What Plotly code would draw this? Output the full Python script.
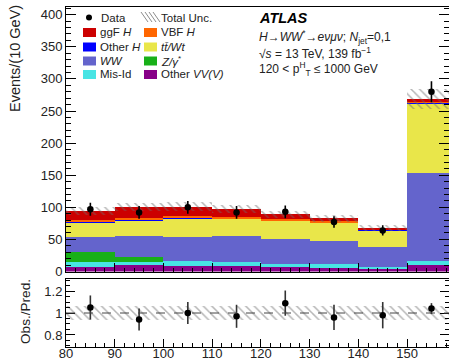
import numpy as np
import plotly.graph_objects as go

# ---------------- data ----------------
bin_centers = [85, 95, 105, 115, 125, 135, 145, 155]
other_vv = [7, 10, 9, 9, 7.5, 6, 4, 10]
mis_id = [8, 5, 7, 6, 3.5, 5, 3.5, 7]
z_gamma = [15, 7, 0, 0, 0, 0, 0, 0]
ww = [24, 34, 38, 40, 39, 36.5, 30, 136]
ttbar_wt = [22.6, 24, 29, 27, 29, 29, 27, 109]
other_h = [1, 1, 1, 1, 0.8, 0.5, 0.3, 0.5]
vbf_h = [3, 3, 3, 2, 1.5, 1, 0.5, 1]
ggf_h = [14, 16, 14, 13, 7.7, 5, 2.6, 5]

data_obs = [97, 92, 100, 92, 93, 77, 64, 280]
data_err = [10, 10, 10, 10, 10, 9, 8, 16.5]
ratio_obs = [1.05, 0.94, 1.00, 0.97, 1.09, 0.96, 0.98, 1.04]
ratio_err = [0.11, 0.10, 0.10, 0.105, 0.115, 0.115, 0.12, 0.05]
unc_rel = [0.065, 0.065, 0.065, 0.065, 0.065, 0.065, 0.065, 0.06]

x_ticks = [80, 90, 100, 110, 120, 130, 140, 150, 160]

components = [
    ("Other VV(V)", other_vv, "#880088"),
    ("Mis-Id", mis_id, "#48e4e4"),
    ("Z/γ*", z_gamma, "#18b018"),
    ("WW", ww, "#6464cc"),
    ("tt/Wt", ttbar_wt, "#e9e64a"),
    ("Other H", other_h, "#0000ff"),
    ("VBF H", vbf_h, "#ff6600"),
    ("ggF H", ggf_h, "#cc0000"),
]

FONT = "Liberation Sans, Arial, sans-serif"
W, H = 449, 363
L, T, B = 66, 7, 16
PW = W - L
PH = H - T - B


def px(x):
    return (x - L) / PW


def py(y):
    return (H - B - y) / PH


fig = go.Figure()

base = np.zeros(len(bin_centers))
for name, vals, col in components:
    v = np.array(vals, dtype=float)
    fig.add_trace(go.Bar(x=bin_centers, y=v, base=base.copy(), width=10,
                         marker=dict(color=col, line=dict(width=0)),
                         name=name, showlegend=False, xaxis="x", yaxis="y"))
    base = base + v

total = base
unc = total * np.array(unc_rel)
hatch = dict(color="rgba(0,0,0,0)", line=dict(width=0),
             pattern=dict(shape="\\", fgcolor="#6e6e6e", bgcolor="rgba(0,0,0,0)",
                          size=6, solidity=0.25, fillmode="overlay"))
fig.add_trace(go.Bar(x=bin_centers, y=2 * unc, base=total - unc, width=10,
                     marker=hatch, showlegend=False, xaxis="x", yaxis="y"))

fig.add_trace(go.Scatter(x=bin_centers, y=data_obs, mode="markers",
                         marker=dict(color="black", size=6.5),
                         error_y=dict(type="data", array=data_err, color="black",
                                      thickness=1.6, width=0),
                         showlegend=False, xaxis="x", yaxis="y"))

# ratio panel
ur = np.array(unc_rel)
fig.add_trace(go.Bar(x=bin_centers, y=2 * ur, base=1 - ur, width=10,
                     marker=hatch, showlegend=False, xaxis="x2", yaxis="y2"))
fig.add_shape(type="line", xref="x2 domain", yref="y2", x0=0, x1=1, y0=1, y1=1,
              line=dict(color="#444", width=1, dash="dash"))
fig.add_trace(go.Scatter(x=bin_centers, y=ratio_obs, mode="markers",
                         marker=dict(color="black", size=6.5),
                         error_y=dict(type="data", array=ratio_err, color="#333",
                                      thickness=1.6, width=0),
                         showlegend=False, xaxis="x2", yaxis="y2"))

xr = [80, 158.6]
axcommon = dict(showgrid=False, zeroline=False, showline=True, linecolor="black",
                linewidth=1, ticks="inside", tickcolor="black",
                tickfont=dict(family=FONT, size=13, color="#222"), automargin=False)

fig.update_layout(
    width=W, height=H,
    margin=dict(l=L, r=0, t=T, b=B),
    paper_bgcolor="white", plot_bgcolor="white",
    barmode="overlay", bargap=0,
    font=dict(family=FONT, color="#222"),
    xaxis=dict(axcommon, domain=[0, 1], range=xr, anchor="y", showticklabels=False,
               tickvals=x_ticks, ticklen=9, mirror=True,
               minor=dict(dtick=2, tick0=80, ticklen=4, ticks="inside", tickcolor="black")),
    yaxis=dict(axcommon, domain=[py(271.5), 1], range=[0, 412], anchor="x",
               dtick=50, ticklen=10, mirror="ticks",
               minor=dict(dtick=10, ticklen=5, ticks="inside", tickcolor="black")),
    xaxis2=dict(axcommon, domain=[0, 1], range=xr, anchor="y2",
                tickvals=x_ticks, ticktext=[str(t) for t in x_ticks], ticklen=8, mirror=True,
                ticklabelstandoff=-6,
                minor=dict(dtick=2, tick0=80, ticklen=4, ticks="inside", tickcolor="black")),
    yaxis2=dict(axcommon, domain=[0, py(279)], range=[0.69, 1.31], anchor="x2",
                tickvals=[0.8, 1.0, 1.2], ticktext=["0.8", "1", "1.2"], ticklen=9,
                mirror="ticks",
                minor=dict(dtick=0.05, tick0=0.8, ticklen=4, ticks="inside", tickcolor="black")),
)

ann = []
ann.append(dict(x=px(15), y=py(59), xref="paper", yref="paper", text="Events/(10 GeV)",
                textangle=-90, showarrow=False, xanchor="center", yanchor="middle",
                font=dict(family=FONT, size=14.5, color="#222")))
ann.append(dict(x=px(25), y=py(312), xref="paper", yref="paper", text="Obs./Pred.",
                textangle=-90, showarrow=False, xanchor="center", yanchor="middle",
                font=dict(family=FONT, size=13.6, color="#222")))

# ATLAS label
ann.append(dict(x=px(257), y=py(18), xref="paper", yref="paper",
                text="<b><i>ATLAS</i></b>", showarrow=False, xanchor="left", yanchor="middle",
                font=dict(family=FONT, size=14.5, color="black")))
atl_lines = [
    (37, "<i>H</i>→<i>WW</i><sup>*</sup>→<i>eνμν</i>; <i>N</i><sub>jet</sub>=0,1"),
    (53, "√<i>s</i> = 13 TeV, 139 fb<sup>−1</sup>"),
    (69, "120 &lt; p<sup>H</sup><sub>T</sub> ≤ 1000 GeV"),
]
for yy, t in atl_lines:
    ann.append(dict(x=px(257), y=py(yy), xref="paper", yref="paper", text=t,
                    showarrow=False, xanchor="left", yanchor="middle",
                    font=dict(family=FONT, size=12, color="#222")))

# manual legend
shapes = []
leg_font = dict(family=FONT, size=11.5, color="#222")
# Data
shapes.append(dict(type="circle", xref="paper", yref="paper",
                   x0=px(86), x1=px(92), y0=py(20.5), y1=py(14.5),
                   fillcolor="black", line=dict(width=0)))
ann.append(dict(x=px(99), y=py(17.5), xref="paper", yref="paper", text="Data",
                showarrow=False, xanchor="left", yanchor="middle", font=leg_font))
# Total unc hatch icon
for k in range(4):
    x0 = 141 + 4 * k
    shapes.append(dict(type="line", xref="paper", yref="paper",
                       x0=px(x0), x1=px(x0 + 7), y0=py(12), y1=py(22),
                       line=dict(color="#8c8c8c", width=1)))
ann.append(dict(x=px(159), y=py(17.5), xref="paper", yref="paper", text="Total Unc.",
                showarrow=False, xanchor="left", yanchor="middle", font=leg_font))

legend_entries = [
    (0, 32.5, "ggF H", "ggF <i>H</i>"),
    (1, 32.5, "VBF H", "VBF <i>H</i>"),
    (0, 47, "Other H", "Other <i>H</i>"),
    (1, 47, "tt/Wt", "<i>tt̄/Wt</i>"),
    (0, 61, "WW", "<i>WW</i>"),
    (1, 61, "Z/γ*", "<i>Z/γ</i><sup>*</sup>"),
    (0, 74.5, "Mis-Id", "Mis-Id"),
    (1, 74.5, "Other VV(V)", "Other <i>VV(V)</i>"),
]
colmap = {n: c for n, _, c in components}
for col, yy, key, label in legend_entries:
    bx = 83 if col == 0 else 144
    shapes.append(dict(type="rect", xref="paper", yref="paper",
                       x0=px(bx), x1=px(bx + 13), y0=py(yy + 4.5), y1=py(yy - 4.5),
                       fillcolor=colmap[key], line=dict(width=0)))
    ann.append(dict(x=px(bx + 14.5), y=py(yy), xref="paper", yref="paper", text=label,
                    showarrow=False, xanchor="left", yanchor="middle", font=leg_font))

fig.update_layout(annotations=ann)
for s in shapes:
    fig.add_shape(**s)

fig.write_html("out.html")
